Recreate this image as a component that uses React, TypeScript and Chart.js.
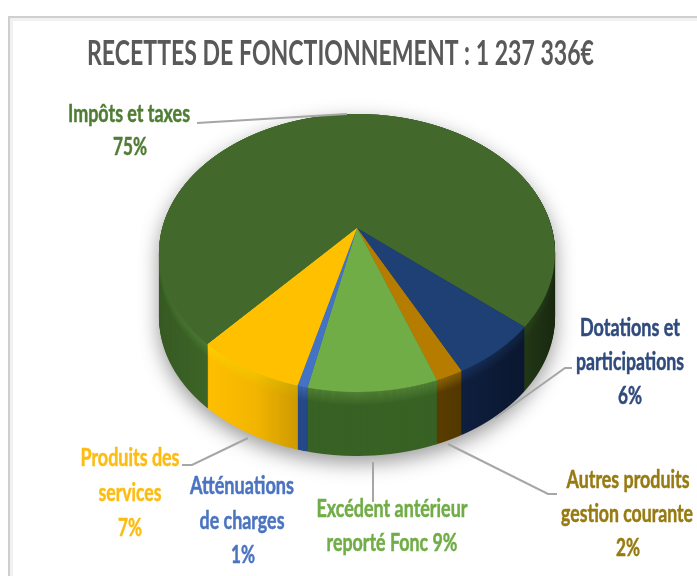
import React, { useEffect, useRef } from "react";
import { Chart, registerables } from "chart.js";

Chart.register(...registerables);

const titleText = "RECETTES DE FONCTIONNEMENT : 1 237 336€";
const categories = [
  "Impôts et taxes",
  "Dotations et participations",
  "Autres produits gestion courante",
  "Excédent antérieur reporté Fonc",
  "Atténuations de charges",
  "Produits des services",
];
const shares = [74.7, 6.3, 1.9, 8.9, 0.7, 7.5];

const faceColors = ["#43682b", "#1f4074", "#b67c00", "#70ad47", "#4472c4", "#ffc000"];
const rimColors = ["#4f8035", "#234680", "#bb8408", "#68a544", "#4f82d6", "#ffd000"];
const sideColors = ["#3e6528", "#142a55", "#6f4c00", "#467a2e", "#2f5aa8", "#ffbf00"];

type LabelLine = { text: string; x: number; y: number; w: number };
type DataLabel = { color: string; lines: LabelLine[] };
const dataLabels: DataLabel[] = [
  { color: "#4f7d35", lines: [
    { text: "Impôts et taxes", x: 129, y: 114, w: 122 },
    { text: "75%", x: 130, y: 147, w: 34 },
  ] },
  { color: "#2f4a7c", lines: [
    { text: "Dotations et", x: 630, y: 328, w: 100 },
    { text: "participations", x: 630, y: 362, w: 108 },
    { text: "6%", x: 630, y: 396, w: 24 },
  ] },
  { color: "#977a12", lines: [
    { text: "Autres produits", x: 628, y: 480, w: 123 },
    { text: "gestion courante", x: 627, y: 514, w: 132 },
    { text: "2%", x: 628, y: 548, w: 24 },
  ] },
  { color: "#70ad47", lines: [
    { text: "Excédent antérieur", x: 392, y: 509, w: 151 },
    { text: "reporté Fonc 9%", x: 392, y: 543, w: 131 },
  ] },
  { color: "#4a74c0", lines: [
    { text: "Atténuations", x: 242, y: 486, w: 104 },
    { text: "de charges", x: 242, y: 521, w: 85 },
    { text: "1%", x: 243, y: 555, w: 24 },
  ] },
  { color: "#fdbc12", lines: [
    { text: "Produits des", x: 130, y: 458, w: 99 },
    { text: "services", x: 130, y: 493, w: 63 },
    { text: "7%", x: 130, y: 528, w: 24 },
  ] },
];

const leaderLines: number[][][] = [
  [[197, 123], [347, 114]],
  [[572, 368], [565, 368], [495, 418]],
  [[557, 494], [548, 494], [448, 444]],
  [[373, 462], [373, 502]],
  [[182, 465], [192, 465], [248, 438]],
];

const W = 697;
const H = 576;
const view = { cx: 357, apexY: 228, halfWidth: 198, up: 114, down: 164, depth: 64, bevel: 14 };

function paintWarped(ctx: CanvasRenderingContext2D, arcs: any[], colors: string[]) {
  const { cx, apexY, halfWidth, up, down } = view;
  const k = (down - up) / (down + up);
  const b = down * (1 - k);
  const a = halfWidth * Math.sqrt(1 - k * k);
  const first = arcs[0];
  const R = first.outerRadius;
  const shaded = arcs.map((arc, i) => {
    const o = Object.create(arc.options);
    o.backgroundColor = colors[i];
    o.borderWidth = 0;
    return o;
  });
  const saved = arcs.map((arc) => arc.options);
  arcs.forEach((arc, i) => (arc.options = shaded[i]));
  for (let row = apexY - up - 1; row < apexY + down + 1; row++) {
    const Y = row + 0.5 - apexY;
    const v = Y / (b + k * Y);
    const den = 1 - k * v;
    const A = a / den;
    const D = b / (den * den);
    const srcY = first.y + R * v;
    ctx.save();
    ctx.setTransform(1, 0, 0, 1, 0, 0);
    ctx.beginPath();
    ctx.rect(0, row, W, 1);
    ctx.clip();
    const sx = A / R;
    const sy = D / R;
    ctx.setTransform(sx, 0, 0, sy, cx - sx * first.x, row + 0.5 - sy * srcY);
    arcs.forEach((arc) => arc.draw(ctx));
    ctx.restore();
  }
  arcs.forEach((arc, i) => (arc.options = saved[i]));
}

function layer(arcs: any[], colors: string[]) {
  const c = document.createElement("canvas");
  c.width = W;
  c.height = H;
  paintWarped(c.getContext("2d") as CanvasRenderingContext2D, arcs, colors);
  return c;
}

const pie3d = {
  id: "pie3d",
  beforeDraw(chart: any) {
    const ctx = chart.ctx as CanvasRenderingContext2D;
    ctx.save();
    ctx.fillStyle = "#ffffff";
    ctx.fillRect(0, 0, W, H);
    ctx.strokeStyle = "#f1f1f1";
    ctx.lineWidth = 4;
    ctx.beginPath();
    ctx.moveTo(11, H);
    ctx.lineTo(11, 19);
    ctx.lineTo(W, 19);
    ctx.stroke();
    ctx.strokeStyle = "#cfcfcf";
    ctx.lineWidth = 2;
    ctx.beginPath();
    ctx.moveTo(9, H);
    ctx.lineTo(9, 17);
    ctx.lineTo(W, 17);
    ctx.stroke();
    ctx.restore();
  },
  beforeDatasetsDraw(chart: any) {
    const ctx = chart.ctx as CanvasRenderingContext2D;
    const arcs = chart.getDatasetMeta(0).data;
    const { depth, bevel } = view;
    const body = layer(arcs, sideColors);
    const rim = layer(arcs, rimColors);

    const side = document.createElement("canvas");
    side.width = W;
    side.height = H;
    const s = side.getContext("2d") as CanvasRenderingContext2D;
    for (let d = depth; d >= 0; d--) {
      s.globalAlpha = 1;
      s.drawImage(body, 0, d);
      if (d < bevel) {
        s.globalAlpha = 1 - d / bevel;
        s.drawImage(rim, 0, d);
      }
    }
    s.globalAlpha = 1;
    s.globalCompositeOperation = "source-atop";
    const g = s.createLinearGradient(160, 0, 556, 0);
    const shade: [number, number][] = [[160, 0.1], [207, 0], [255, 0.05], [300, 0.2], [440, 0.2], [525, 0.45], [556, 0.6]];
    shade.forEach(([x, al]) => g.addColorStop((x - 160) / 396, `rgba(0,0,0,${al})`));
    s.fillStyle = g;
    s.fillRect(0, 0, W, H);

    ctx.save();
    ctx.shadowColor = "rgba(0,0,0,0.4)";
    ctx.shadowBlur = 20;
    ctx.shadowOffsetY = 7;
    ctx.drawImage(side, 0, 0);
    ctx.restore();

    ctx.save();
    paintWarped(ctx, arcs, faceColors);
    ctx.restore();

    ctx.save();
    ctx.strokeStyle = "#a6a6a6";
    ctx.lineWidth = 2;
    leaderLines.forEach((pts) => {
      ctx.beginPath();
      pts.forEach(([x, y], i) => (i ? ctx.lineTo(x, y) : ctx.moveTo(x, y)));
      ctx.stroke();
    });
    ctx.font = "700 24px Lato";
    ctx.textAlign = "center";
    ctx.textBaseline = "middle";
    ctx.lineWidth = 0.5;
    dataLabels.forEach((lab) => {
      ctx.fillStyle = lab.color;
      ctx.strokeStyle = lab.color;
      lab.lines.forEach((ln) => {
        ctx.fillText(ln.text, ln.x, ln.y, ln.w);
        ctx.strokeText(ln.text, ln.x, ln.y, ln.w);
      });
    });
    ctx.restore();
    return false;
  },
};

export default function App() {
  const ref = useRef<HTMLCanvasElement>(null);
  useEffect(() => {
    document.body.style.margin = "0";
    const chart = new Chart(ref.current as HTMLCanvasElement, {
      type: "pie",
      data: {
        labels: categories,
        datasets: [{ data: shares, backgroundColor: faceColors, borderWidth: 0 }],
      },
      options: {
        responsive: false,
        animation: false,
        rotation: 221.6,
        layout: { padding: { left: 87, right: 103, top: 0, bottom: 0 } },
        plugins: {
          legend: { display: false },
          tooltip: { enabled: false },
          title: {
            display: true,
            text: titleText,
            color: "#595959",
            font: { family: "Lato", size: 34, weight: "bold" },
            padding: { top: 34, bottom: 6 },
          },
        },
      },
      plugins: [pie3d],
    } as any);
    return () => chart.destroy();
  }, []);
  return (
    <canvas
      ref={ref}
      width={W}
      height={H}
      style={{ display: "block", width: W, height: H, filter: "blur(0.7px)" }}
    />
  );
}
